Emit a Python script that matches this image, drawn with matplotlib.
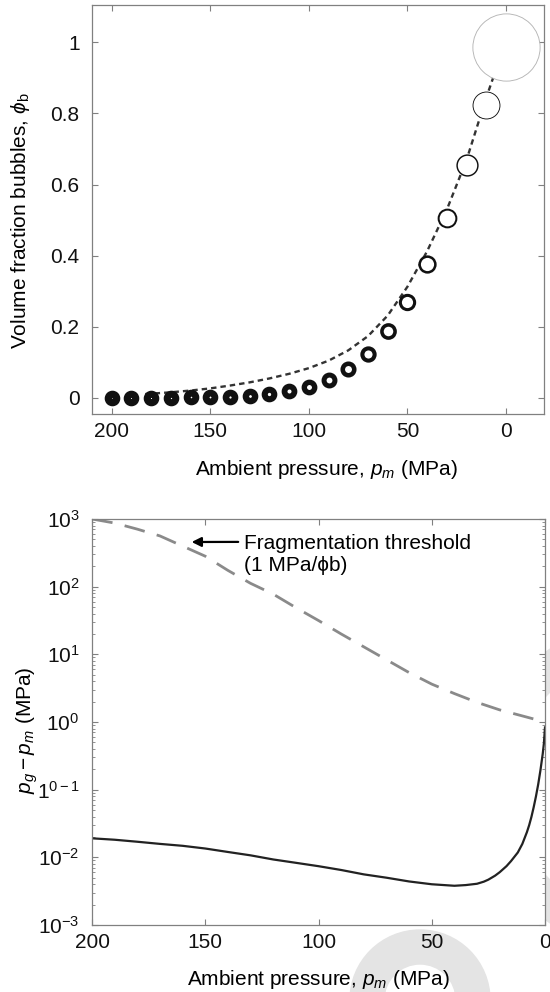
import numpy as np
import matplotlib
matplotlib.use("Agg")
import matplotlib.pyplot as plt
from matplotlib.patches import Wedge
from matplotlib.ticker import LogLocator, NullFormatter

plt.rcParams['font.family'] = ['Liberation Sans', 'DejaVu Sans']
plt.rcParams['mathtext.fontset'] = 'custom'
plt.rcParams['mathtext.rm'] = 'Liberation Sans'
plt.rcParams['mathtext.it'] = 'Liberation Sans:italic'
plt.rcParams['mathtext.bf'] = 'Liberation Sans:bold'

# top panel: bubble volume fraction vs ambient pressure
ring_p = [200, 190, 180, 170, 160, 150, 140, 130, 120, 110, 100,
          90, 80, 70, 60, 50, 40, 30, 20, 10, 0]
ring_phi = [0.0003, 0.0005, 0.0008, 0.0012, 0.0018, 0.0027, 0.004, 0.0065, 0.011, 0.019, 0.032,
            0.052, 0.082, 0.125, 0.187, 0.27, 0.377, 0.506, 0.656, 0.824, 0.988]

eq_p = [183, 170, 160, 150, 140, 130, 120, 110, 100, 90, 80, 70, 60, 50, 40, 30, 20, 10, 5, 0]
eq_phi = [0.011, 0.016, 0.021, 0.027, 0.035, 0.044, 0.055, 0.068, 0.084, 0.105, 0.134,
          0.174, 0.232, 0.313, 0.413, 0.53, 0.67, 0.845, 0.925, 1.0]

# bottom panel: overpressure and fragmentation threshold
frag_p = [200, 190, 180, 170, 160, 150, 140, 130, 120, 110, 100, 90, 80, 70, 60,
          50, 40, 30, 20, 10, 0]
frag_val = [1000, 871, 708, 562, 398, 282, 174, 112, 77.6, 49.0, 31.6, 20.0, 12.9, 8.32, 5.37,
            3.63, 2.63, 1.95, 1.51, 1.23, 1.0]

dp_p = [200, 190, 180, 170, 160, 150, 140, 130, 120, 110, 100, 90, 80, 70, 60, 50, 40,
        35, 30, 27, 25, 22, 20, 17, 15, 12, 10, 8, 7, 6, 5, 4, 3, 2, 1, 0.5, 0]
dp_val = [0.0191, 0.0182, 0.0170, 0.0158, 0.0148, 0.0135, 0.0120, 0.0107, 0.0093, 0.0083, 0.0074,
          0.0065, 0.0056, 0.0050, 0.0044, 0.0040, 0.0038,
          0.00389, 0.00407, 0.00437, 0.00468, 0.00537, 0.00603, 0.00741, 0.00880, 0.0118,
          0.0158, 0.0235, 0.0298, 0.0395, 0.0550, 0.0794, 0.120, 0.195, 0.339, 0.479, 0.832]

W, H = 550, 992
fig = plt.figure(figsize=(W / 100, H / 100), dpi=100)

# faint watermark pieces behind the axes
wm = '#e4e4e4'
fig.patches.append(Wedge((4.20, -0.08), 0.70, 0, 180, width=0.34, color=wm,
                         transform=fig.dpi_scale_trans, zorder=-1))
fig.patches.append(Wedge((6.44, 2.06), 1.66, 0, 360, width=0.33, color=wm,
                         transform=fig.dpi_scale_trans, zorder=-1))

spine_c = '#808080'
fs = 15


def style(ax):
    for s in ax.spines.values():
        s.set_color(spine_c)
        s.set_linewidth(0.9)
    ax.tick_params(which='both', direction='in', top=True, right=True,
                   color=spine_c, labelsize=fs, labelcolor='#111111')
    ax.tick_params(which='major', length=4.5, width=0.8)
    ax.tick_params(axis='x', which='major', pad=6)
    ax.tick_params(axis='y', which='major', pad=9)
    ax.tick_params(which='minor', length=2.5, width=0.6)


ax1 = fig.add_axes([92 / W, 1 - 414 / H, 451.5 / W, 409 / H])
ax1.plot(eq_p, eq_phi, ls=(0, (2.3, 1.7)), color='#333333', lw=1.7, zorder=2)

R0 = 7.8  # px, outer radius of the melt shell when phi = 0
px2pt = 0.72
for p, phi in zip(ring_p, ring_phi):
    R = R0 * (1 - phi) ** (-1 / 3)
    r = R * phi ** (1 / 3)
    thick = max(R - r, 0.9)
    mid = R - thick / 2
    ec = '#111111' if R - r > 0.6 else '#b5b5b5'
    ax1.scatter([p], [phi], s=(2 * mid * px2pt) ** 2, facecolors='white',
                edgecolors=ec, linewidths=thick * px2pt, zorder=3)

ax1.set_xlim(210, -19)
ax1.set_ylim(-0.045, 1.105)
ax1.set_xticks([200, 150, 100, 50, 0])
ax1.set_yticks([0, 0.2, 0.4, 0.6, 0.8, 1.0])
ax1.set_yticklabels(['0', '0.2', '0.4', '0.6', '0.8', '1'])
ax1.set_xlabel('Ambient pressure, $p_m$ (MPa)', fontsize=fs)
ax1.set_ylabel(r'Volume fraction bubbles, $\phi_\mathrm{b}$', fontsize=fs)
style(ax1)
ax1.xaxis.set_label_coords(0.52, -0.108)
ax1.yaxis.set_label_coords(-0.132, 0.472)

ax2 = fig.add_axes([92 / W, 1 - 925 / H, 453 / W, 406 / H])
ax2.semilogy(frag_p, frag_val, ls=(0, (7.5, 4.5)), color='#8a8a8a', lw=2.0)
ax2.semilogy(dp_p, dp_val, color='#222222', lw=1.6)
ax2.set_xlim(200, 0)
ax2.set_ylim(1e-3, 1e3)
ax2.set_xticks([200, 150, 100, 50, 0])
ax2.set_yticks([1e3, 1e2, 1e1, 1e0, 1e-1, 1e-2, 1e-3])
ax2.set_yticklabels(['$10^{3}$', '$10^{2}$', '$10^{1}$', '$10^{0}$', '$1^{0-1}$',
                     '$10^{-2}$', '$10^{-3}$'])
ax2.yaxis.set_minor_locator(LogLocator(base=10, subs=np.arange(2, 10), numticks=20))
ax2.yaxis.set_minor_formatter(NullFormatter())
ax2.set_xlabel('Ambient pressure, $p_m$ (MPa)', fontsize=fs)
ax2.set_ylabel('$p_g - p_m$ (MPa)', fontsize=fs)
style(ax2)
ax2.xaxis.set_label_coords(0.5, -0.106)
ax2.yaxis.set_label_coords(-0.114, 0.48)

ax2.annotate('Fragmentation threshold\n(1 MPa/\u03d5b)', xy=(156, 10 ** 2.66),
             xytext=(133, 10 ** 2.48), fontsize=fs, va='center', ha='left',
             linespacing=1.2,
             arrowprops=dict(arrowstyle='-|>', color='black', lw=1.6,
                             mutation_scale=14, shrinkA=2, shrinkB=0,
                             relpos=(0, 0.8)))

fig.savefig('out.png', dpi=100)
